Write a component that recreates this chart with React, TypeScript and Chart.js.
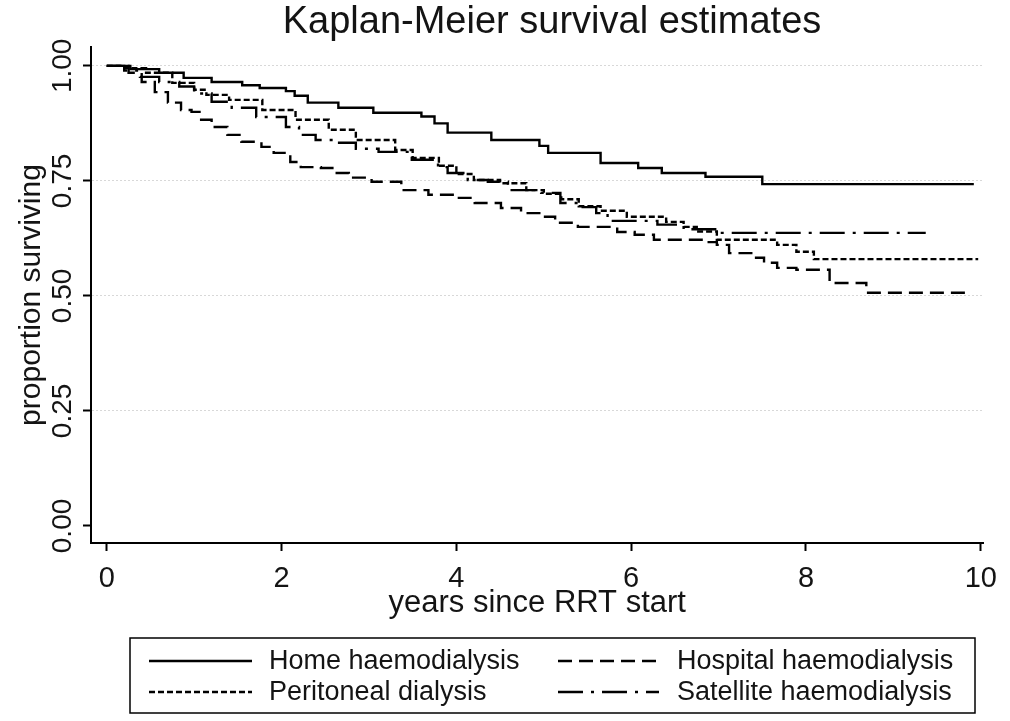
import React, { useEffect, useRef } from "react";
import { Chart, registerables } from "chart.js";

Chart.register(...registerables);

// ---- data ----
const chartTitle = "Kaplan-Meier survival estimates";
const seriesLabels = [
  "Home haemodialysis",
  "Hospital haemodialysis",
  "Peritoneal dialysis",
  "Satellite haemodialysis",
];

const homeT = [0, 0.27, 0.6, 0.88, 1.2, 1.55, 1.75, 2.05, 2.15, 2.3, 2.65, 3.05, 3.6, 3.75, 3.9, 4.4, 4.95, 5.05, 5.65, 6.08, 6.35, 6.85, 7.5, 9.92];
const homeS = [1, 0.993, 0.985, 0.974, 0.965, 0.958, 0.952, 0.945, 0.935, 0.92, 0.909, 0.898, 0.89, 0.875, 0.855, 0.839, 0.826, 0.811, 0.789, 0.778, 0.767, 0.759, 0.743, 0.743];

const hospT = [0, 0.25, 0.4, 0.55, 0.7, 0.85, 0.97, 1.08, 1.2, 1.38, 1.54, 1.77, 1.91, 2.1, 2.22, 2.45, 2.6, 2.77, 3.03, 3.37, 3.68, 3.99, 4.21, 4.51, 4.74, 4.97, 5.13, 5.39, 5.84, 6.04, 6.26, 6.83, 6.98, 7.12, 7.4, 7.52, 7.67, 7.89, 8.27, 8.69, 9.89];
const hospS = [1, 0.985, 0.965, 0.943, 0.92, 0.904, 0.9, 0.883, 0.867, 0.85, 0.835, 0.824, 0.811, 0.791, 0.78, 0.778, 0.767, 0.757, 0.748, 0.73, 0.72, 0.713, 0.702, 0.691, 0.68, 0.672, 0.659, 0.65, 0.639, 0.633, 0.622, 0.617, 0.611, 0.593, 0.583, 0.572, 0.561, 0.557, 0.528, 0.507, 0.507];

const periT = [0, 0.2, 0.45, 0.75, 1.0, 1.14, 1.4, 1.78, 2.16, 2.54, 2.85, 3.3, 3.5, 3.8, 4.0, 4.2, 4.5, 4.8, 5.0, 5.2, 5.4, 5.65, 5.95, 6.4, 6.6, 6.75, 6.98, 7.67, 7.89, 8.09, 9.97];
const periS = [1, 0.995, 0.985, 0.963, 0.948, 0.937, 0.926, 0.904, 0.883, 0.861, 0.839, 0.817, 0.8, 0.783, 0.765, 0.752, 0.745, 0.73, 0.722, 0.71, 0.695, 0.685, 0.672, 0.661, 0.65, 0.64, 0.622, 0.611, 0.596, 0.58, 0.58];

const satT = [0, 0.2, 0.38, 0.6, 0.83, 1.0, 1.2, 1.43, 1.71, 2.05, 2.2, 2.39, 2.62, 2.85, 3.11, 3.49, 3.79, 3.9, 4.13, 4.36, 4.59, 4.97, 5.19, 5.39, 5.6, 5.73, 6.3, 6.6, 6.98, 9.37];
const satS = [1, 0.99, 0.976, 0.965, 0.955, 0.94, 0.922, 0.909, 0.889, 0.867, 0.85, 0.839, 0.833, 0.82, 0.813, 0.796, 0.78, 0.767, 0.752, 0.748, 0.73, 0.724, 0.702, 0.693, 0.68, 0.663, 0.655, 0.645, 0.637, 0.637];

const xTicks = [0, 2, 4, 6, 8, 10];
const yTicks = [0, 0.25, 0.5, 0.75, 1];

const FONT = "'Liberation Sans', Arial, Helvetica, sans-serif";
const TEXT = "#141414";

const pairs = (t: number[], s: number[]) => t.map((v, i) => ({ x: v, y: s[i] }));

// Title centred over the plot region (as in the reference)
const kmTitle = {
  id: "kmTitle",
  afterDraw(chart: any, _args: any, opts: any) {
    const ctx = chart.ctx as CanvasRenderingContext2D;
    ctx.save();
    ctx.font = `${opts.fontSize}px ${FONT}`;
    ctx.fillStyle = TEXT;
    ctx.textAlign = "center";
    ctx.textBaseline = "middle";
    ctx.fillText(opts.text, opts.x, opts.y);
    ctx.restore();
  },
};

const kmLegend = {
  id: "kmLegend",
  afterDraw(chart: any, _args: any, opts: any) {
    const ctx = chart.ctx as CanvasRenderingContext2D;
    ctx.save();
    ctx.strokeStyle = "#000";
    ctx.lineWidth = 1.5;
    ctx.strokeRect(opts.boxX, opts.boxY, opts.boxW, opts.boxH);
    ctx.font = `${opts.fontSize}px ${FONT}`;
    ctx.textBaseline = "middle";
    ctx.textAlign = "left";
    chart.data.datasets.forEach((ds: any, i: number) => {
      const col = i % 2;
      const row = Math.floor(i / 2);
      const y = opts.rowY[row];
      const x0 = opts.colSample[col][0];
      const x1 = opts.colSample[col][1];
      ctx.save();
      ctx.strokeStyle = ds.borderColor;
      ctx.lineWidth = ds.borderWidth;
      ctx.setLineDash(ds.borderDash || []);
      ctx.beginPath();
      ctx.moveTo(x0, y);
      ctx.lineTo(x1, y);
      ctx.stroke();
      ctx.restore();
      ctx.fillStyle = TEXT;
      ctx.fillText(ds.label, opts.colText[col], y + 1);
    });
    ctx.restore();
  },
};

export default function App() {
  const ref = useRef<HTMLCanvasElement | null>(null);

  useEffect(() => {
    if (!ref.current) return;
    const mk = (label: string, t: number[], s: number[], dash: number[]) => ({
      label,
      data: pairs(t, s),
      borderColor: "#000",
      backgroundColor: "#000",
      borderWidth: 2.4,
      borderDash: dash,
      pointRadius: 0,
      stepped: "before" as const,
      fill: false,
      tension: 0,
    });
    const chart = new Chart(ref.current, {
      type: "line",
      data: {
        datasets: [
          mk(seriesLabels[0], homeT, homeS, []),
          mk(seriesLabels[1], hospT, hospS, [14, 7]),
          mk(seriesLabels[2], periT, periS, [6, 3]),
          mk(seriesLabels[3], satT, satS, [25, 8, 3, 8]),
        ],
      },
      plugins: [kmTitle, kmLegend],
      options: {
        animation: false,
        responsive: true,
        maintainAspectRatio: false,
        layout: { padding: { left: 0, right: 20, top: 47, bottom: 101 } },
        plugins: {
          legend: { display: false },
          tooltip: { enabled: false },
          title: { display: false },
          kmTitle: { text: chartTitle, x: 552, y: 23, fontSize: 38 },
          kmLegend: {
            boxX: 130,
            boxY: 638,
            boxW: 845,
            boxH: 75,
            rowY: [661, 692],
            colSample: [
              [149, 252],
              [558, 659],
            ],
            colText: [269, 677],
            fontSize: 27,
          },
        } as any,
        scales: {
          x: {
            type: "linear",
            min: -0.18,
            max: 10.03,
            afterBuildTicks: (a: any) => {
              a.ticks = xTicks.map((v) => ({ value: v }));
            },
            afterFit: (a: any) => {
              a.height = 77;
            },
            grid: {
              drawOnChartArea: false,
              drawTicks: true,
              tickLength: 8,
              tickColor: "#000",
              tickWidth: 2,
            },
            border: { display: true, color: "#000", width: 2 },
            ticks: {
              color: TEXT,
              font: { family: FONT, size: 29, lineHeight: 1 },
              padding: 13,
              maxRotation: 0,
              autoSkip: false,
              callback: (v: any) => String(v),
            },
            title: {
              display: true,
              text: "years since RRT start",
              color: TEXT,
              font: { family: FONT, size: 31, lineHeight: 1 },
              padding: { top: 0, bottom: 1 },
            },
          },
          y: {
            type: "linear",
            min: -0.037,
            max: 1.041,
            afterBuildTicks: (a: any) => {
              a.ticks = yTicks.map((v) => ({ value: v }));
            },
            afterFit: (a: any) => {
              a.width = 91;
            },
            grid: {
              drawOnChartArea: true,
              color: (c: any) => (c.tick && c.tick.value === 0 ? "rgba(0,0,0,0)" : "#d8d8d8"),
              lineWidth: 1,
              drawTicks: true,
              tickLength: 8,
              tickColor: "#000",
              tickWidth: 2,
            },
            border: { display: true, color: "#000", width: 2, dash: [2, 2] },
            ticks: {
              color: TEXT,
              font: { family: FONT, size: 28, lineHeight: 1 },
              minRotation: 90,
              maxRotation: 90,
              crossAlign: "center",
              padding: -7.7,
              autoSkip: false,
              callback: (v: any) => Number(v).toFixed(2),
            },
            title: {
              display: true,
              text: "proportion surviving",
              color: TEXT,
              font: { family: FONT, size: 30, lineHeight: 1 },
              padding: { top: 17, bottom: 0 },
            },
          },
        },
      },
    });
    return () => chart.destroy();
  }, []);

  return (
    <div style={{ position: "absolute", left: 0, top: 0, width: 1010, height: 721, background: "#fff" }}>
      <canvas ref={ref} />
    </div>
  );
}
